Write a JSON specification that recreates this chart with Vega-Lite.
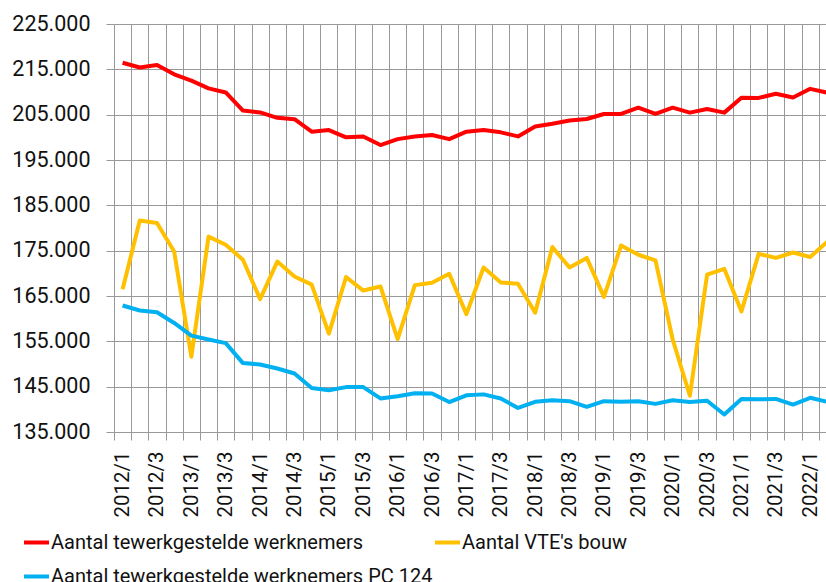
{
  "$schema": "https://vega.github.io/schema/vega-lite/v6.json",
  "autosize": {"type": "none"},
  "padding": {"left": 114, "top": 24, "right": 0, "bottom": 150},
  "width": 712,
  "height": 408,
  "background": "white",
  "config": {
    "view": {"stroke": null},
    "font": "Roboto",
    "axis": {"labelFont": "Roboto", "labelColor": "#111111", "gridColor": "#999999", "tickColor": "#999999", "gridWidth": 1, "tickWidth": 1, "domain": false, "title": null},
    "legend": {"labelFont": "Roboto"}
  },
  "data": {
    "values": [
      {"q":"2012/1","s":"Aantal tewerkgestelde werknemers","v":216450},
      {"q":"2012/2","s":"Aantal tewerkgestelde werknemers","v":215400},
      {"q":"2012/3","s":"Aantal tewerkgestelde werknemers","v":215950},
      {"q":"2012/4","s":"Aantal tewerkgestelde werknemers","v":213900},
      {"q":"2013/1","s":"Aantal tewerkgestelde werknemers","v":212500},
      {"q":"2013/2","s":"Aantal tewerkgestelde werknemers","v":210800},
      {"q":"2013/3","s":"Aantal tewerkgestelde werknemers","v":209900},
      {"q":"2013/4","s":"Aantal tewerkgestelde werknemers","v":205900},
      {"q":"2014/1","s":"Aantal tewerkgestelde werknemers","v":205500},
      {"q":"2014/2","s":"Aantal tewerkgestelde werknemers","v":204300},
      {"q":"2014/3","s":"Aantal tewerkgestelde werknemers","v":204000},
      {"q":"2014/4","s":"Aantal tewerkgestelde werknemers","v":201250},
      {"q":"2015/1","s":"Aantal tewerkgestelde werknemers","v":201600},
      {"q":"2015/2","s":"Aantal tewerkgestelde werknemers","v":200000},
      {"q":"2015/3","s":"Aantal tewerkgestelde werknemers","v":200200},
      {"q":"2015/4","s":"Aantal tewerkgestelde werknemers","v":198300},
      {"q":"2016/1","s":"Aantal tewerkgestelde werknemers","v":199600},
      {"q":"2016/2","s":"Aantal tewerkgestelde werknemers","v":200200},
      {"q":"2016/3","s":"Aantal tewerkgestelde werknemers","v":200500},
      {"q":"2016/4","s":"Aantal tewerkgestelde werknemers","v":199600},
      {"q":"2017/1","s":"Aantal tewerkgestelde werknemers","v":201250},
      {"q":"2017/2","s":"Aantal tewerkgestelde werknemers","v":201600},
      {"q":"2017/3","s":"Aantal tewerkgestelde werknemers","v":201100},
      {"q":"2017/4","s":"Aantal tewerkgestelde werknemers","v":200200},
      {"q":"2018/1","s":"Aantal tewerkgestelde werknemers","v":202400},
      {"q":"2018/2","s":"Aantal tewerkgestelde werknemers","v":203000},
      {"q":"2018/3","s":"Aantal tewerkgestelde werknemers","v":203700},
      {"q":"2018/4","s":"Aantal tewerkgestelde werknemers","v":204050},
      {"q":"2019/1","s":"Aantal tewerkgestelde werknemers","v":205150},
      {"q":"2019/2","s":"Aantal tewerkgestelde werknemers","v":205150},
      {"q":"2019/3","s":"Aantal tewerkgestelde werknemers","v":206550},
      {"q":"2019/4","s":"Aantal tewerkgestelde werknemers","v":205150},
      {"q":"2020/1","s":"Aantal tewerkgestelde werknemers","v":206550},
      {"q":"2020/2","s":"Aantal tewerkgestelde werknemers","v":205450},
      {"q":"2020/3","s":"Aantal tewerkgestelde werknemers","v":206250},
      {"q":"2020/4","s":"Aantal tewerkgestelde werknemers","v":205450},
      {"q":"2021/1","s":"Aantal tewerkgestelde werknemers","v":208750},
      {"q":"2021/2","s":"Aantal tewerkgestelde werknemers","v":208700},
      {"q":"2021/3","s":"Aantal tewerkgestelde werknemers","v":209600},
      {"q":"2021/4","s":"Aantal tewerkgestelde werknemers","v":208800},
      {"q":"2022/1","s":"Aantal tewerkgestelde werknemers","v":210700},
      {"q":"2022/2","s":"Aantal tewerkgestelde werknemers","v":209850},
      {"q":"2012/1","s":"Aantal VTE's bouw","v":166500},
      {"q":"2012/2","s":"Aantal VTE's bouw","v":181650},
      {"q":"2012/3","s":"Aantal VTE's bouw","v":181100},
      {"q":"2012/4","s":"Aantal VTE's bouw","v":174800},
      {"q":"2013/1","s":"Aantal VTE's bouw","v":151600},
      {"q":"2013/2","s":"Aantal VTE's bouw","v":178100},
      {"q":"2013/3","s":"Aantal VTE's bouw","v":176300},
      {"q":"2013/4","s":"Aantal VTE's bouw","v":173000},
      {"q":"2014/1","s":"Aantal VTE's bouw","v":164300},
      {"q":"2014/2","s":"Aantal VTE's bouw","v":172600},
      {"q":"2014/3","s":"Aantal VTE's bouw","v":169300},
      {"q":"2014/4","s":"Aantal VTE's bouw","v":167500},
      {"q":"2015/1","s":"Aantal VTE's bouw","v":156700},
      {"q":"2015/2","s":"Aantal VTE's bouw","v":169200},
      {"q":"2015/3","s":"Aantal VTE's bouw","v":166200},
      {"q":"2015/4","s":"Aantal VTE's bouw","v":167100},
      {"q":"2016/1","s":"Aantal VTE's bouw","v":155500},
      {"q":"2016/2","s":"Aantal VTE's bouw","v":167400},
      {"q":"2016/3","s":"Aantal VTE's bouw","v":167900},
      {"q":"2016/4","s":"Aantal VTE's bouw","v":169900},
      {"q":"2017/1","s":"Aantal VTE's bouw","v":161000},
      {"q":"2017/2","s":"Aantal VTE's bouw","v":171300},
      {"q":"2017/3","s":"Aantal VTE's bouw","v":168000},
      {"q":"2017/4","s":"Aantal VTE's bouw","v":167700},
      {"q":"2018/1","s":"Aantal VTE's bouw","v":161300},
      {"q":"2018/2","s":"Aantal VTE's bouw","v":175800},
      {"q":"2018/3","s":"Aantal VTE's bouw","v":171300},
      {"q":"2018/4","s":"Aantal VTE's bouw","v":173400},
      {"q":"2019/1","s":"Aantal VTE's bouw","v":164800},
      {"q":"2019/2","s":"Aantal VTE's bouw","v":176150},
      {"q":"2019/3","s":"Aantal VTE's bouw","v":174100},
      {"q":"2019/4","s":"Aantal VTE's bouw","v":172850},
      {"q":"2020/1","s":"Aantal VTE's bouw","v":155400},
      {"q":"2020/2","s":"Aantal VTE's bouw","v":143000},
      {"q":"2020/3","s":"Aantal VTE's bouw","v":169700},
      {"q":"2020/4","s":"Aantal VTE's bouw","v":171000},
      {"q":"2021/1","s":"Aantal VTE's bouw","v":161600},
      {"q":"2021/2","s":"Aantal VTE's bouw","v":174300},
      {"q":"2021/3","s":"Aantal VTE's bouw","v":173400},
      {"q":"2021/4","s":"Aantal VTE's bouw","v":174600},
      {"q":"2022/1","s":"Aantal VTE's bouw","v":173600},
      {"q":"2022/2","s":"Aantal VTE's bouw","v":177000},
      {"q":"2012/1","s":"Aantal tewerkgestelde werknemers PC 124","v":162900},
      {"q":"2012/2","s":"Aantal tewerkgestelde werknemers PC 124","v":161800},
      {"q":"2012/3","s":"Aantal tewerkgestelde werknemers PC 124","v":161400},
      {"q":"2012/4","s":"Aantal tewerkgestelde werknemers PC 124","v":159050},
      {"q":"2013/1","s":"Aantal tewerkgestelde werknemers PC 124","v":156250},
      {"q":"2013/2","s":"Aantal tewerkgestelde werknemers PC 124","v":155400},
      {"q":"2013/3","s":"Aantal tewerkgestelde werknemers PC 124","v":154600},
      {"q":"2013/4","s":"Aantal tewerkgestelde werknemers PC 124","v":150200},
      {"q":"2014/1","s":"Aantal tewerkgestelde werknemers PC 124","v":149900},
      {"q":"2014/2","s":"Aantal tewerkgestelde werknemers PC 124","v":149000},
      {"q":"2014/3","s":"Aantal tewerkgestelde werknemers PC 124","v":147900},
      {"q":"2014/4","s":"Aantal tewerkgestelde werknemers PC 124","v":144700},
      {"q":"2015/1","s":"Aantal tewerkgestelde werknemers PC 124","v":144200},
      {"q":"2015/2","s":"Aantal tewerkgestelde werknemers PC 124","v":144900},
      {"q":"2015/3","s":"Aantal tewerkgestelde werknemers PC 124","v":144900},
      {"q":"2015/4","s":"Aantal tewerkgestelde werknemers PC 124","v":142400},
      {"q":"2016/1","s":"Aantal tewerkgestelde werknemers PC 124","v":142900},
      {"q":"2016/2","s":"Aantal tewerkgestelde werknemers PC 124","v":143550},
      {"q":"2016/3","s":"Aantal tewerkgestelde werknemers PC 124","v":143500},
      {"q":"2016/4","s":"Aantal tewerkgestelde werknemers PC 124","v":141600},
      {"q":"2017/1","s":"Aantal tewerkgestelde werknemers PC 124","v":143100},
      {"q":"2017/2","s":"Aantal tewerkgestelde werknemers PC 124","v":143300},
      {"q":"2017/3","s":"Aantal tewerkgestelde werknemers PC 124","v":142400},
      {"q":"2017/4","s":"Aantal tewerkgestelde werknemers PC 124","v":140300},
      {"q":"2018/1","s":"Aantal tewerkgestelde werknemers PC 124","v":141650},
      {"q":"2018/2","s":"Aantal tewerkgestelde werknemers PC 124","v":142000},
      {"q":"2018/3","s":"Aantal tewerkgestelde werknemers PC 124","v":141800},
      {"q":"2018/4","s":"Aantal tewerkgestelde werknemers PC 124","v":140550},
      {"q":"2019/1","s":"Aantal tewerkgestelde werknemers PC 124","v":141800},
      {"q":"2019/2","s":"Aantal tewerkgestelde werknemers PC 124","v":141650},
      {"q":"2019/3","s":"Aantal tewerkgestelde werknemers PC 124","v":141800},
      {"q":"2019/4","s":"Aantal tewerkgestelde werknemers PC 124","v":141200},
      {"q":"2020/1","s":"Aantal tewerkgestelde werknemers PC 124","v":142000},
      {"q":"2020/2","s":"Aantal tewerkgestelde werknemers PC 124","v":141600},
      {"q":"2020/3","s":"Aantal tewerkgestelde werknemers PC 124","v":141900},
      {"q":"2020/4","s":"Aantal tewerkgestelde werknemers PC 124","v":138850},
      {"q":"2021/1","s":"Aantal tewerkgestelde werknemers PC 124","v":142300},
      {"q":"2021/2","s":"Aantal tewerkgestelde werknemers PC 124","v":142200},
      {"q":"2021/3","s":"Aantal tewerkgestelde werknemers PC 124","v":142300},
      {"q":"2021/4","s":"Aantal tewerkgestelde werknemers PC 124","v":141050},
      {"q":"2022/1","s":"Aantal tewerkgestelde werknemers PC 124","v":142550},
      {"q":"2022/2","s":"Aantal tewerkgestelde werknemers PC 124","v":141650}
    ]
  },
  "mark": {"type": "line", "strokeWidth": 4, "strokeJoin": "round", "strokeCap": "butt"},
  "encoding": {
    "x": {
      "field": "q",
      "type": "ordinal",
      "sort": null,
      "bandPosition": 0.5,
      "scale": {"type": "band", "range": [0, 722], "paddingInner": 0, "paddingOuter": 0},
      "axis": {
        "tickBand": "extent",
        "grid": true,
        "tickSize": 8,
        "labelAngle": -90,
        "labelFontSize": 20.5,
        "labelPadding": 11,
        "labelOverlap": false,
        "labelExpr": "test(/\\/[13]$/, datum.label) ? datum.label : ''"
      }
    },
    "y": {
      "field": "v",
      "type": "quantitative",
      "scale": {"domain": [135000, 225000], "nice": false, "zero": false},
      "axis": {
        "values": [135000, 145000, 155000, 165000, 175000, 185000, 195000, 205000, 215000, 225000],
        "grid": true,
        "tickSize": 8,
        "labelFontSize": 21.5,
        "labelPadding": 16,
        "labelExpr": "replace(format(datum.value, ','), ',', '.')"
      }
    },
    "color": {
      "field": "s",
      "type": "nominal",
      "scale": {
        "domain": ["Aantal tewerkgestelde werknemers", "Aantal VTE's bouw", "Aantal tewerkgestelde werknemers PC 124"],
        "range": ["#FF0000", "#FFC000", "#00B0F0"]
      },
      "legend": {
        "orient": "none",
        "legendX": -92,
        "legendY": 504,
        "columns": 2,
        "gridAlign": "none",
        "title": null,
        "values": ["Aantal tewerkgestelde werknemers", "Aantal tewerkgestelde werknemers PC 124", "Aantal VTE's bouw"],
        "symbolType": "stroke",
        "symbolSize": 625,
        "symbolStrokeWidth": 4,
        "labelFontSize": 20,
        "labelColor": "#111111",
        "labelOffset": 0,
        "labelLimit": 600,
        "columnPadding": -6,
        "rowPadding": 9
      }
    }
  }
}
